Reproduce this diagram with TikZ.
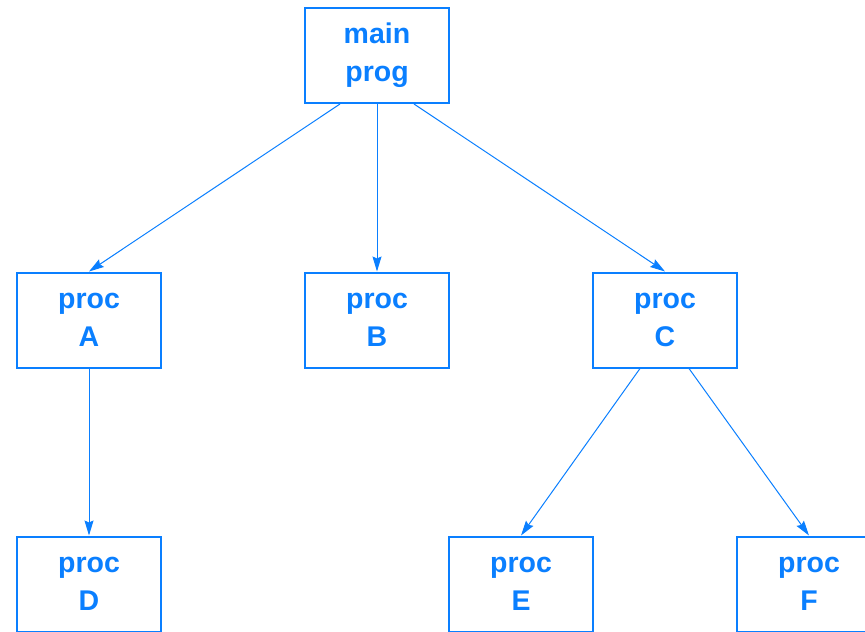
\documentclass[tikz,border=0pt]{standalone}
\usepackage{fontspec}
\setmainfont{Liberation Sans}
\usetikzlibrary{arrows.meta}
\definecolor{ink}{HTML}{0A7FFF}
\begin{document}
\begin{tikzpicture}[x=1pt,y=-1pt,
  box/.style={draw=ink, line width=2pt, minimum width=144pt, minimum height=95pt, inner sep=0pt,
    align=center, text=ink, font=\fontsize{28.5}{38}\selectfont\bfseries},
  conn/.style={draw=ink, line width=1pt, -{Stealth[length=15pt,width=9pt,inset=2pt]}}]
\useasboundingbox (0,0) rectangle (865,632);
\clip (0,0) rectangle (865,632);
\node[box] (main) at (377,55.5) {main\\prog};
\node[box] (A) at (89,320) {proc\\A};
\node[box] (B) at (377,320) {proc\\B};
\node[box] (C) at (665,320) {proc\\C};
\node[box] (D) at (89,584) {proc\\D};
\node[box] (E) at (521,584) {proc\\E};
\node[box] (F) at (809,584) {proc\\F};
\draw[conn] ([xshift=-37pt]main.south) -- (A.north);
\draw[conn] (main.south) -- (B.north);
\draw[conn] ([xshift=37pt]main.south) -- (C.north);
\draw[conn] (A.south) -- (D.north);
\draw[conn] ([xshift=-25pt]C.south) -- (E.north);
\draw[conn] ([xshift=24pt]C.south) -- (F.north);
\end{tikzpicture}
\end{document}
